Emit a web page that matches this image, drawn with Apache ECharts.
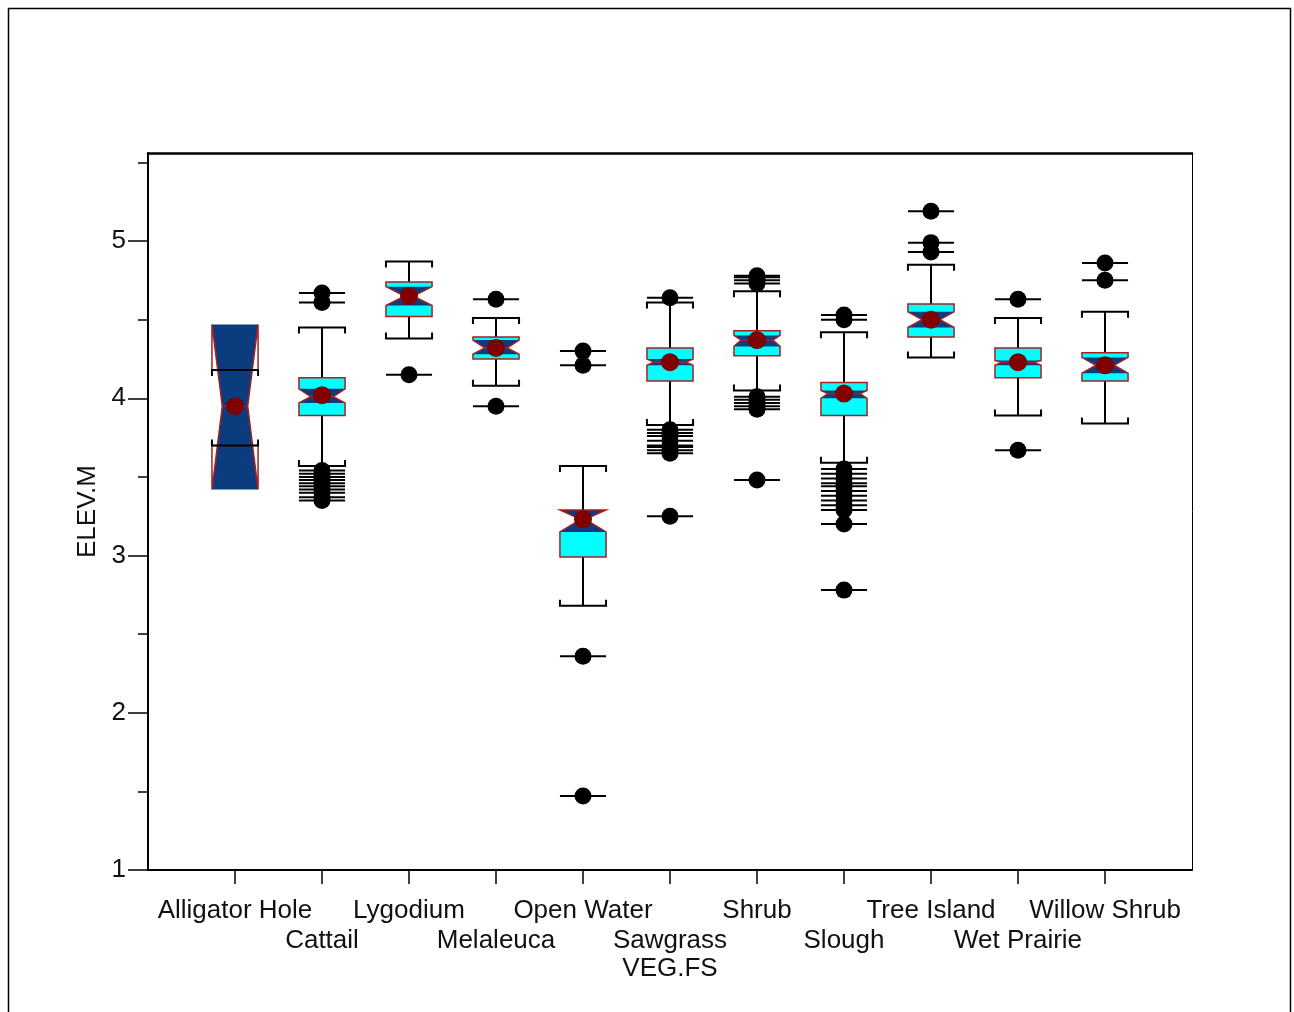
<!DOCTYPE html>
<html><head><meta charset="utf-8">
<script src="https://cdn.jsdelivr.net/npm/echarts@6/dist/echarts.min.js"></script>
<style>html,body{margin:0;padding:0;background:#fff}#c{width:1294px;height:1012px}</style>
</head><body><div id="c"></div>
<script>
const categories = ['Alligator Hole','Cattail','Lygodium','Melaleuca','Open Water','Sawgrass','Shrub','Slough','Tree Island','Wet Prairie','Willow Shrub'];
const whiskerLow  = [3.70,3.57,4.38,4.08,2.68,3.83,4.05,3.59,4.26,3.89,3.84];
const q1          = [3.70,3.89,4.52,4.25,2.99,4.11,4.27,3.89,4.39,4.13,4.11];
const medians     = [3.95,4.01,4.65,4.32,3.23,4.23,4.37,4.03,4.50,4.23,4.21];
const q3          = [4.18,4.13,4.74,4.39,3.29,4.32,4.43,4.10,4.60,4.32,4.29];
const whiskerHigh = [4.18,4.45,4.87,4.51,3.57,4.61,4.68,4.42,4.85,4.51,4.55];
const notchLow    = [3.42,3.97,4.59,4.28,3.15,4.21,4.33,4.00,4.45,4.21,4.16];
const notchHigh   = [4.47,4.06,4.71,4.37,3.29,4.25,4.40,4.05,4.55,4.24,4.26];
const means       = [3.95,4.02,4.65,4.32,3.23,4.23,4.37,4.03,4.50,4.23,4.21];
const outliers = [
  [],
  [4.67,4.61,3.54,3.52,3.50,3.48,3.46,3.44,3.42,3.40,3.37,3.35],
  [4.15],
  [4.63,3.95],
  [4.30,4.21,2.36,1.47],
  [4.64,3.80,3.78,3.76,3.73,3.70,3.69,3.67,3.65,3.25],
  [4.78,4.77,4.75,4.73,4.01,3.99,3.97,3.95,3.93,3.48],
  [4.53,4.50,3.55,3.52,3.49,3.46,3.44,3.41,3.38,3.35,3.32,3.29,3.20,2.78],
  [5.19,4.99,4.93],
  [4.63,3.67],
  [4.86,4.75]
];
const yMajorTicks = [1,2,3,4,5];
const yMinorTicks = [1.5,2.5,3.5,4.5,5.5];
const xAxisTitle = 'VEG.FS';
const yAxisTitle = 'ELEV.M';

// padded category list: one empty slot at each end so boxes sit one step in from the frame
const axisCategories = [''].concat(categories, ['']);
const boxData = categories.map((c,i)=>[i+1, whiskerLow[i], q1[i], medians[i], q3[i], whiskerHigh[i], notchLow[i], notchHigh[i]]);
const meanData = categories.map((c,i)=>[i+1, means[i]]);
const outlierData = [];
outliers.forEach((arr,i)=>arr.forEach(v=>outlierData.push([i+1, v])));

const FONT = 'Liberation Sans, Arial, sans-serif';
const FS = 26;
const CYAN = '#00ffff', RED = '#a82020', NAVY = '#0b3d7e', MEAN = '#800000';

function renderBox(params, api){
  const i = api.value(0);
  const x = api.coord([i, 0])[0];
  const W = api.size([1, 0])[0] * 0.53;
  const L = x - W/2, R = x + W/2;
  const Y = v => api.coord([i, v])[1];
  const wl = Y(api.value(1)), b1 = Y(api.value(2)), m = Y(api.value(3)), b3 = Y(api.value(4)), wh = Y(api.value(5)), nl = Y(api.value(6)), nh = Y(api.value(7));
  const npx = (nl - nh)/2;
  let f = Math.min(0.9, Math.max(0.3, (npx - 3)/8));
  if (npx > 30) f = 0.45;
  const d = W/2 * f;
  const cap = 6;
  const blk = {stroke:'#000', lineWidth:2};
  return {type:'group', children:[
    {type:'line', shape:{x1:x,y1:b3,x2:x,y2:wh}, style:blk},
    {type:'line', shape:{x1:x,y1:b1,x2:x,y2:wl}, style:blk},
    {type:'rect', shape:{x:L,y:b3,width:W,height:b1-b3}, style:{fill:CYAN}},
    {type:'polygon', shape:{points:[[L,nh],[R,nh],[R-d,m],[R,nl],[L,nl],[L+d,m]]}, style:{fill:NAVY}},
    {type:'polygon', shape:{points:[[L-1,nh],[L+d,m],[L-1,nl]]}, style:{fill:'#fff'}},
    {type:'polygon', shape:{points:[[R+1,nh],[R-d,m],[R+1,nl]]}, style:{fill:'#fff'}},
    {type:'polygon', shape:{points:[[L,b3],[R,b3],[R,nh],[R-d,m],[R,nl],[R,b1],[L,b1],[L,nl],[L+d,m],[L,nh]]}, style:{fill:null, stroke:RED, lineWidth:1.5}},
    {type:'line', shape:{x1:L+d,y1:m,x2:R-d,y2:m}, style:{stroke:RED, lineWidth:1.5}},
    {type:'polyline', shape:{points:[[L,wh+cap],[L,wh],[R,wh],[R,wh+cap]]}, style:{fill:null, stroke:'#000', lineWidth:2}},
    {type:'polyline', shape:{points:[[L,wl-cap],[L,wl],[R,wl],[R,wl-cap]]}, style:{fill:null, stroke:'#000', lineWidth:2}}
  ]};
}
function renderOutlier(params, api){
  const i = api.value(0);
  const p = api.coord([i, api.value(1)]);
  const W = api.size([1, 0])[0] * 0.53;
  return {type:'group', children:[
    {type:'line', shape:{x1:p[0]-W/2,y1:p[1],x2:p[0]+W/2,y2:p[1]}, style:{stroke:'#000', lineWidth:2}},
    {type:'circle', shape:{cx:p[0], cy:p[1], r:8.5}, style:{fill:'#000'}}
  ]};
}
// row 1 holds odd slots (1,3,...,11), row 2 the even slots (2,...,10)
const row1 = idx => idx >= 1 && idx <= categories.length && idx % 2 === 1;
const row2 = idx => idx >= 1 && idx <= categories.length && idx % 2 === 0;
const labelBase = {fontFamily:FONT, fontSize:FS, color:'#111', lineHeight:30, showMinLabel:true, showMaxLabel:true};

const chart = echarts.init(document.getElementById('c'), null, {renderer:'canvas'});
chart.setOption({
  backgroundColor:'#fff',
  animation:false,
  textStyle:{fontFamily:FONT},
  graphic:[{type:'rect', shape:{x:8.5,y:8.5,width:1282,height:1010}, style:{fill:null, stroke:'#000', lineWidth:1.5}, z:-1}],
  grid:{left:148, top:153, right:102, bottom:142},
  xAxis:[{
    type:'category', data:axisCategories, boundaryGap:false, position:'bottom', offset:0,
    name:xAxisTitle, nameLocation:'middle', nameGap:86, nameMoveOverlap:false,
    nameTextStyle:{fontFamily:FONT, fontSize:FS, color:'#111'},
    axisLine:{lineStyle:{color:'#000', width:2}},
    axisTick:{interval:(idx)=>row1(idx), length:14, lineStyle:{color:'#000', width:1.5}},
    axisLabel:Object.assign({interval:(idx)=>row1(idx), margin:26}, labelBase),
    splitLine:{show:false}
  },{
    type:'category', data:axisCategories, boundaryGap:false, position:'bottom', offset:0,
    axisLine:{show:false},
    axisTick:{show:true, interval:(idx)=>row2(idx), length:14, lineStyle:{color:'#000', width:1.5}},
    axisLabel:Object.assign({interval:(idx)=>row2(idx), margin:56}, labelBase),
    splitLine:{show:false}
  },{
    type:'value', min:0, max:12, position:'top',
    axisLine:{lineStyle:{color:'#000', width:2.5}}, axisTick:{show:false}, axisLabel:{show:false}, splitLine:{show:false}
  }],
  yAxis:[{
    type:'value', min:1, max:5.56, position:'left',
    name:yAxisTitle, nameLocation:'middle', nameGap:44, nameRotate:90,
    nameTextStyle:{fontFamily:FONT, fontSize:FS, color:'#111'},
    axisLine:{show:true, lineStyle:{color:'#000', width:2}},
    axisTick:{show:true, customValues:yMajorTicks, length:20, lineStyle:{color:'#000', width:1.5}},
    axisLabel:{customValues:yMajorTicks, margin:22, fontFamily:FONT, fontSize:FS, color:'#111'},
    splitLine:{show:false}
  },{
    type:'value', min:1, max:5.56, position:'left',
    axisLine:{show:false},
    axisTick:{show:true, customValues:yMinorTicks, length:10, lineStyle:{color:'#000', width:1.5}},
    axisLabel:{show:false}, splitLine:{show:false}
  },{
    type:'value', min:1, max:5.56, position:'right',
    axisLine:{show:true, lineStyle:{color:'#000', width:1}}, axisTick:{show:false}, axisLabel:{show:false}, splitLine:{show:false}
  }],
  series:[
    {type:'custom', renderItem:renderBox, data:boxData, encode:{x:0, y:[1,2,3,4,5]}, z:2},
    {type:'custom', renderItem:renderOutlier, data:outlierData, encode:{x:0, y:1}, z:3},
    {type:'scatter', data:meanData, symbol:'circle', symbolSize:18, itemStyle:{color:MEAN, opacity:1}, z:4}
  ]
});
</script></body></html>
